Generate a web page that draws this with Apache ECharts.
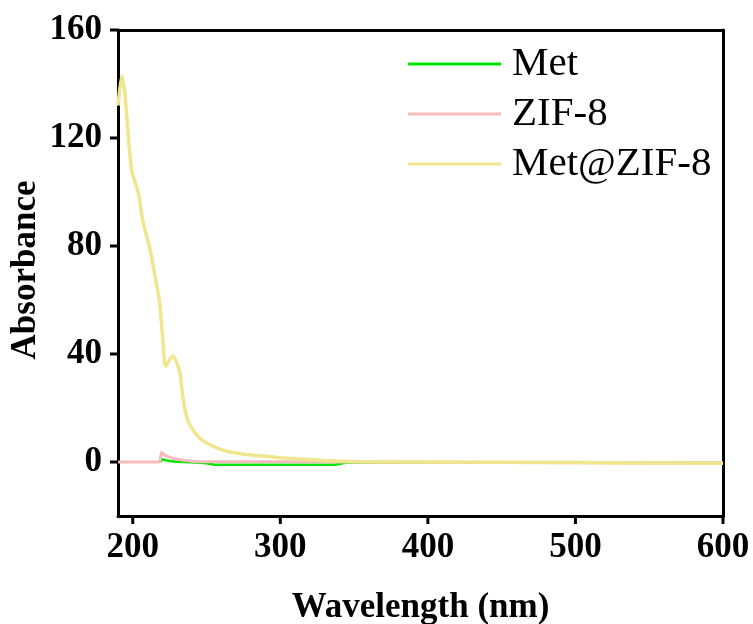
<!DOCTYPE html>
<html>
<head>
<meta charset="utf-8">
<script src="https://cdn.jsdelivr.net/npm/echarts@6/dist/echarts.min.js"></script>
<style>
  html, body { margin: 0; padding: 0; background: #fff; }
  #chart { width: 753px; height: 624px; }
</style>
</head>
<body>
<div id="chart"></div>
<script>
const seriesNames = ['Met', 'ZIF-8', 'Met@ZIF-8']
const xTicks = [200, 300, 400, 500, 600]
const yTicks = [0, 40, 80, 120, 160]
const xRange = [190, 600]
const yRange = [-20, 160]

// Met
const metX = [219, 220, 222, 225, 230, 240, 250, 256, 300, 336, 345, 400, 500, 600]
const metY = [0, 1.0, 0.7, 0.4, 0.1, -0.1, -0.5, -1.0, -1.0, -1.0, -0.3, -0.2, -0.2, -0.3]
// ZIF-8
const zifX = [190, 200, 210, 218, 219.5, 221, 225, 230, 240, 250, 300, 400, 500, 600]
const zifY = [0, 0, 0, 0, 3.6, 2.8, 1.8, 1.0, 0.3, 0.1, 0.1, -0.1, -0.3, -0.4]
// Met@ZIF-8
const mzX = [190, 192.5, 194.7, 197, 199.3, 203.8, 206.7, 212, 216, 218, 220, 221.5, 222.5, 225, 227.5, 230, 232, 234, 236, 238, 241, 245, 250, 257, 265, 280, 300, 313, 330, 354, 400, 500, 600]
const mzY = [132, 143, 136.5, 120.5, 108, 99.6, 89.6, 78, 66, 60, 48, 37, 35.5, 38, 39.3, 36.5, 32.8, 24, 18, 14.5, 11.8, 9, 7, 5.2, 3.8, 2.6, 1.6, 1.1, 0.6, 0.1, 0, -0.2, -0.5]

const colors = ['#00e400', '#f9bcbc', '#efe68e']
const widths = [2.5, 3, 3.5]
const serif = '"Times New Roman", "Liberation Serif", serif'

function pairs(xs, ys) {
  return xs.map((x, i) => [x, ys[i]])
}

const labelStyle = { fontFamily: serif, fontSize: 35, fontWeight: 'bold', color: '#000' }
const lineStyle = { color: '#000', width: 3 }
const TICK = 8

// top and right axes only draw the frame
const frameAxis = {
  type: 'value', axisLine: { show: true, onZero: false, lineStyle },
  axisTick: { show: false }, axisLabel: { show: false }, splitLine: { show: false }
}

// outward tick marks, placed through the axis scales
function tickSeries(values, vertical) {
  return {
    type: 'custom', silent: true, clip: false, z: 5,
    data: values.map(v => vertical ? [xRange[0], v] : [v, yRange[0]]),
    renderItem: (params, api) => {
      const p = api.coord([api.value(0), api.value(1)])
      return {
        type: 'line',
        shape: vertical
          ? { x1: p[0] - TICK, y1: p[1], x2: p[0], y2: p[1] }
          : { x1: p[0], y1: p[1], x2: p[0], y2: p[1] + TICK },
        style: { stroke: '#000', lineWidth: 3 }
      }
    }
  }
}

const chart = echarts.init(document.getElementById('chart'))
chart.setOption({
  animation: false,
  grid: { left: 118, right: 30, top: 30, bottom: 108, outerBoundsMode: 'none' },
  legend: {
    orient: 'vertical',
    left: 408, top: 43, padding: 0,
    icon: 'rect',
    itemWidth: 93, itemHeight: 3, itemGap: 8,
    textStyle: { fontFamily: serif, fontSize: 41, color: '#000', lineHeight: 42, padding: [0, 0, 0, 6] },
    data: seriesNames
  },
  graphic: [{
    type: 'text', x: 26, y: 270, rotation: Math.PI / 2,
    style: { text: 'Absorbance', fontFamily: serif, fontSize: 35, fontWeight: 'bold', fill: '#000', align: 'center', verticalAlign: 'middle' }
  }],
  xAxis: [
    {
      type: 'value', min: xRange[0], max: xRange[1], position: 'bottom',
      name: 'Wavelength (nm)', nameLocation: 'middle', nameGap: 74,
      nameTextStyle: labelStyle,
      axisLine: { onZero: false, lineStyle },
      axisTick: { show: false },
      axisLabel: { customValues: xTicks, ...labelStyle, margin: 14 },
      splitLine: { show: false }
    },
    { ...frameAxis, min: xRange[0], max: xRange[1], position: 'top' }
  ],
  yAxis: [
    {
      type: 'value', min: yRange[0], max: yRange[1], position: 'left',
      axisLine: { show: true, onZero: false, lineStyle },
      axisTick: { show: false },
      axisLabel: { customValues: yTicks, ...labelStyle, margin: 16 },
      splitLine: { show: false }
    },
    { ...frameAxis, min: yRange[0], max: yRange[1], position: 'right' }
  ],
  series: [
    ...[
      { name: 'Met', data: pairs(metX, metY) },
      { name: 'ZIF-8', data: pairs(zifX, zifY) },
      { name: 'Met@ZIF-8', data: pairs(mzX, mzY) }
    ].map((s, i) => ({
      ...s,
      type: 'line',
      symbol: 'none',
      smooth: 0.2,
      color: colors[i],
      lineStyle: { color: colors[i], width: widths[i] }
    })),
    tickSeries(xTicks, false),
    tickSeries(yTicks, true)
  ]
})
</script>
</body>
</html>
